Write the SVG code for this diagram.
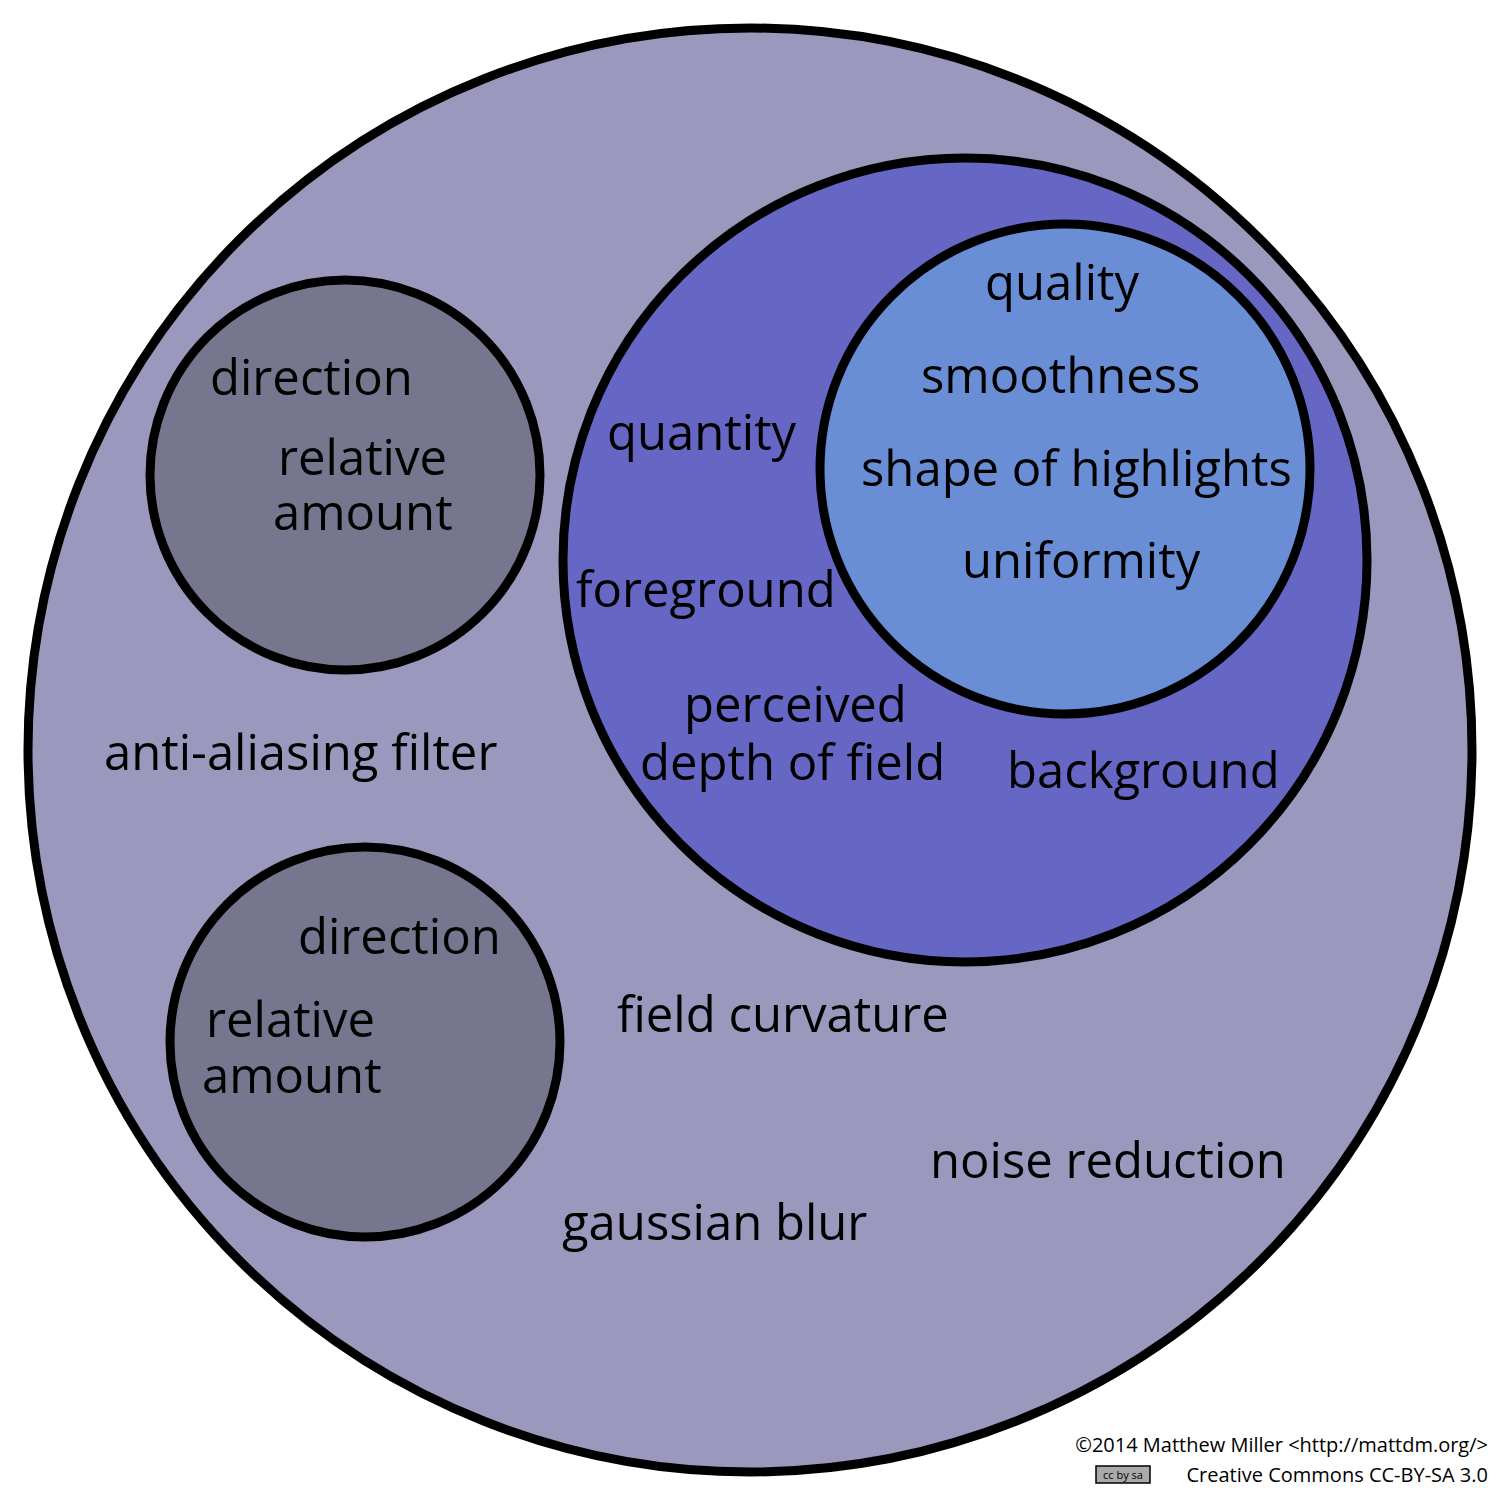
<svg xmlns="http://www.w3.org/2000/svg" width="1500" height="1500" viewBox="0 0 1500 1500">
<style>
circle{stroke:#000;stroke-width:9}
text{font-family:"Open Sans","DejaVu Sans",sans-serif;font-size:49px;fill:#000}
.s{font-size:20px}
</style>
<rect width="1500" height="1500" fill="#fff"/>
<g id="outer"><circle cx="750" cy="750" r="722" fill="#9a98bd"/>
<text x="104" y="770">anti-aliasing filter</text>
<text x="617" y="1032">field curvature</text>
<text x="930" y="1178">noise reduction</text>
<text x="562" y="1240">gaussian blur</text></g>
<g id="purple"><circle cx="965" cy="560" r="402" fill="#6666c4"/>
<text x="607" y="450">quantity</text>
<text x="576" y="607">foreground</text>
<text x="684" y="722">perceived</text>
<text x="640" y="780">depth of field</text>
<text x="1007" y="788">background</text></g>
<g id="blue"><circle cx="1065" cy="469" r="245" fill="#6a8ed6"/>
<text x="985" y="300">quality</text>
<text x="921" y="393">smoothness</text>
<text x="861" y="486">shape of highlights</text>
<text x="962" y="578">uniformity</text></g>
<g id="grey1"><circle cx="345" cy="475" r="195" fill="#76768e"/>
<text x="210" y="395">direction</text>
<text x="278" y="475">relative</text>
<text x="273" y="530">amount</text></g>
<g id="grey2"><circle cx="365" cy="1042" r="195" fill="#76768e"/>
<text x="298" y="954">direction</text>
<text x="206" y="1037">relative</text>
<text x="202" y="1093">amount</text></g>
<g id="credit">
<text class="s" x="1488" y="1452" text-anchor="end">©2014 Matthew Miller  &lt;http://mattdm.org/&gt;</text>
<rect x="1096" y="1466" width="54" height="17" fill="#aaa" stroke="#000" stroke-width="1.5"/>
<text x="1123" y="1479" text-anchor="middle" style="font-size:11px">cc by sa</text>
<text class="s" x="1488" y="1482" text-anchor="end">Creative Commons CC-BY-SA 3.0</text></g>
</svg>
